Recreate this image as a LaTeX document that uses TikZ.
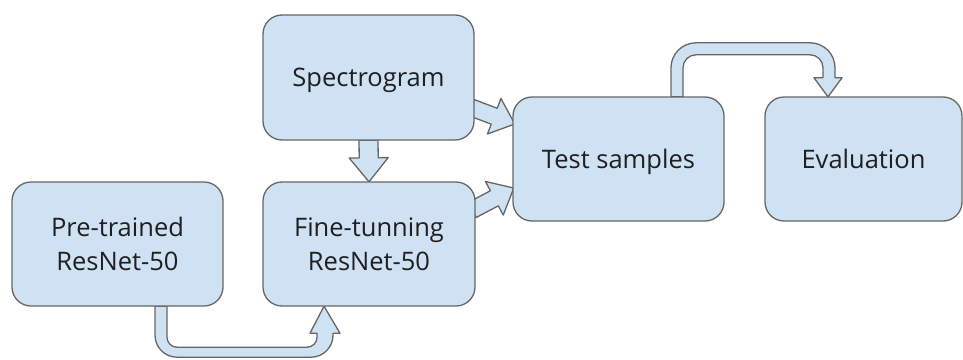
\documentclass[tikz,border=0pt]{standalone}
\usepackage{fontspec}
\setmainfont{Open Sans}
\usetikzlibrary{calc}
\definecolor{boxfill}{HTML}{CFE2F3}
\definecolor{boxline}{HTML}{666666}
\tikzset{
  blk/.style={fill=boxfill, draw=boxline, line width=1.3pt, line join=round},
  stage/.style={blk, rounded corners=19pt, align=center, inner sep=0pt,
    font=\fontsize{25.5}{34}\selectfont, text=black!88},
  oneline/.style={stage, text height=18.5pt, text depth=0pt},
  twoline/.style={stage},
}
% straight block arrow: #1 start, #2 tip, #3 shaft half width, #4 head half width, #5 head length
\newcommand\blkarrow[5]{%
  \draw[blk] let \p1=#1, \p2=#2, \n1={atan2(\y2-\y1,\x2-\x1)}, \n2={veclen(\x2-\x1,\y2-\y1)} in
    [shift={(\p1)}, rotate=\n1]
    (0,-#3) -- ({\n2-#5},-#3) -- ({\n2-#5},-#4) -- (\n2,0) -- ({\n2-#5},#4) -- ({\n2-#5},#3) -- (0,#3) -- cycle;
}
\begin{document}
\begin{tikzpicture}[x=1pt,y=1pt]
\useasboundingbox (0,0) rectangle (963,-359);
% node placement (coordinates only)
\coordinate (cpre)  at (117.5,-244);
\coordinate (cfine) at (369,-244);
\coordinate (cspec) at (368.5,-77.5);
\coordinate (ctest) at (618.5,-159);
\coordinate (ceval) at (863.5,-159);
% invisible nodes to get anchors before drawing arrows
\path node[minimum width=211pt, minimum height=124pt, inner sep=0pt] (pre) at (cpre) {}
      node[minimum width=212pt, minimum height=124pt, inner sep=0pt] (fine) at (cfine) {}
      node[minimum width=211pt, minimum height=125pt, inner sep=0pt] (spec) at (cspec) {}
      node[minimum width=211pt, minimum height=124pt, inner sep=0pt] (test) at (ctest) {}
      node[minimum width=197pt, minimum height=124pt, inner sep=0pt] (eval) at (ceval) {};
% connectors
\blkarrow{(spec.south)}{(fine.north)}{9.5}{19.5}{24}
\blkarrow{($(spec.east)+(-3,-30)$)}{($(test.west)+(2,35)$)}{8.5}{19}{22}
\blkarrow{($(fine.east)+(-3,34)$)}{($(test.west)+(1,-29)$)}{8.5}{19}{22}
% bottom bent arrow: pre -> fine
\draw[blk] ($(pre.south)+(37.5,0)$) -- ++(0,-29)
   arc[start angle=180,end angle=270,radius=22] -- ++(134,0)
   arc[start angle=270,end angle=360,radius=22] -- ++(0,2) -- ++(7,0)
   -- ($(fine.south)+(-45,0)$) -- ++(-14,-27) -- ++(7,0) -- ++(0,-4)
   arc[start angle=0,end angle=-90,radius=10] -- ++(-130,0)
   arc[start angle=270,end angle=180,radius=10] -- ++(0,31) -- cycle;
% top bent arrow: test -> eval
\draw[blk] ($(test.north)+(52.5,0)$) -- ++(0,29)
   arc[start angle=180,end angle=90,radius=25] -- ++(114,0)
   arc[start angle=90,end angle=0,radius=25] -- ++(0,-10) -- ++(7,0)
   -- ($(eval.north)+(-35.5,0)$) -- ++(-14,19) -- ++(9,0) -- ++(0,10)
   arc[start angle=0,end angle=90,radius=13] -- ++(-114,0)
   arc[start angle=90,end angle=180,radius=13] -- ++(0,-29) -- cycle;
% boxes
\node[twoline, minimum width=211pt, minimum height=124pt] at (cpre) {Pre-trained\\ResNet-50};
\node[twoline, minimum width=212pt, minimum height=124pt] at (cfine) {Fine-tunning\\ResNet-50};
\node[oneline, minimum width=211pt, minimum height=125pt] at (cspec) {Spectrogram};
\node[oneline, minimum width=211pt, minimum height=124pt] at (ctest) {Test samples};
\node[oneline, minimum width=197pt, minimum height=124pt] at (ceval) {Evaluation};
\end{tikzpicture}
\end{document}
